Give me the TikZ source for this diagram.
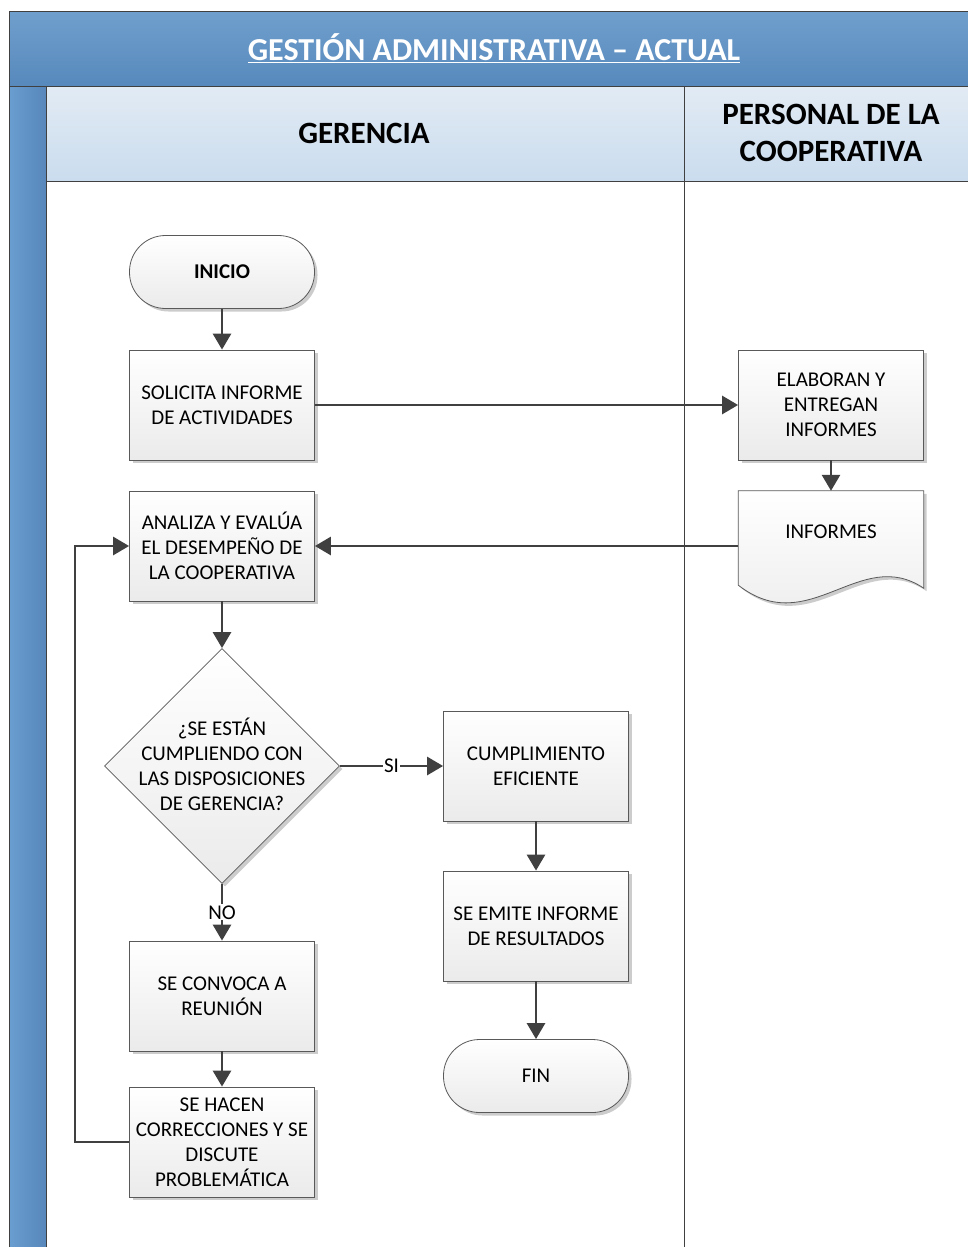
\documentclass[tikz,border=0pt]{standalone}
\usepackage{fontspec}
\setmainfont{Carlito}
\usetikzlibrary{shapes.geometric,shadows,arrows.meta,calc}

\definecolor{bandtop}{HTML}{6E9FCC}
\definecolor{bandbot}{HTML}{5889BD}
\definecolor{stripleft}{HTML}{6A9DD0}
\definecolor{stripright}{HTML}{5787BB}
\definecolor{headtop}{HTML}{E2EBF4}
\definecolor{headbot}{HTML}{CADCEE}
\definecolor{linecol}{HTML}{404040}
\definecolor{boxline}{HTML}{595959}

\newcommand\flowfont{\fontsize{21}{25}\selectfont}
\newcommand\headfont{\fontsize{31}{37}\selectfont\bfseries}

\begin{document}
\begin{tikzpicture}[x=1pt,y=-1pt,
  shade/.style={drop shadow={shadow xshift=3pt,shadow yshift=-3pt,opacity=0.2,fill=black}},
  boxfill/.style={draw=boxline,line width=0.8pt,top color=white,bottom color=black!8},
  box/.style={boxfill,shade,rectangle,minimum width=185pt,minimum height=110pt,
    inner sep=0pt,align=center,font=\flowfont},
  terminal/.style={boxfill,shade,rectangle,rounded corners=36pt,minimum width=185pt,
    minimum height=73pt,inner sep=0pt,align=center,font=\flowfont},
  decision/.style={boxfill,shade,diamond,minimum width=235pt,minimum height=235pt,
    inner sep=0pt,font=\flowfont},
  flow/.style={draw=linecol,line width=2.8pt,-{Triangle[length=16pt,width=18pt]}},
  lbl/.style={fill=white,inner sep=1pt,font=\flowfont},
  lanetitle/.style={align=center,font=\headfont,text=black}]

\useasboundingbox (0,0) rectangle (968,1247);

% swimlane frame
\fill[top color=bandtop,bottom color=bandbot] (9,12) rectangle (968,86);
\fill[left color=stripleft,right color=stripright] (9,86) rectangle (46,1247);
\fill[top color=headtop,bottom color=headbot] (46,86) rectangle (968,181);
\draw[linecol,line width=1pt] (968,12) -- (9,12) -- (9,1247);
\draw[linecol,line width=1pt] (9,86) -- (968,86);
\draw[linecol,line width=1pt] (46,86) -- (46,1247);
\draw[linecol,line width=1pt] (46,181) -- (968,181);
\draw[linecol,line width=1pt] (684,86) -- (684,1247);

\node[font=\fontsize{32}{36}\selectfont\bfseries,text=white] (title) at (494,48)
  {\underline{GESTIÓN ADMINISTRATIVA – ACTUAL}};
\node[lanetitle] (lane1) at (364,133) {GERENCIA};
\node[lanetitle] (lane2) at (831,133) {PERSONAL DE LA\\COOPERATIVA};

% flow steps
\node[terminal] (ini) at (222,272) {\bfseries INICIO};
\node[box] (sol) at (222,405) {SOLICITA INFORME\\DE ACTIVIDADES};
\node[box] (ela) at (831,405) {ELABORAN Y\\ENTREGAN\\INFORMES};
\node[minimum width=185pt,minimum height=110pt,inner sep=0pt,font=\flowfont]
  (inf) at (831,546) {};
\draw[boxfill,shade] (inf.north west) -- (inf.north east)
  -- ($(inf.south east)+(0,-13)$)
  .. controls ($(inf.south east)+(-64,-56)$) and ($(inf.south west)+(71,39)$)
  .. ($(inf.south west)+(0,-16)$) -- cycle;
\node[font=\flowfont] (inftext) at (831,532) {INFORMES};
\node[box] (ana) at (222,546) {ANALIZA Y EVALÚA\\EL DESEMPEÑO DE\\LA COOPERATIVA};
\node[decision] (dec) at (222,766) {\makebox[0pt]{\raisebox{-7pt}[0pt][0pt]{\begin{tabular}{@{}c@{}}¿SE ESTÁN\\CUMPLIENDO CON\\LAS DISPOSICIONES\\DE GERENCIA?\end{tabular}}}};
\node[box] (cum) at (536,766) {CUMPLIMIENTO\\EFICIENTE};
\node[box] (emi) at (536,926) {SE EMITE INFORME\\DE RESULTADOS};
\node[terminal] (fin) at (536,1076) {FIN};
\node[box] (con) at (222,996) {SE CONVOCA A\\REUNIÓN};
\node[box] (cor) at (222,1142) {SE HACEN\\CORRECCIONES Y SE\\DISCUTE\\PROBLEMÁTICA};
\coordinate (loop) at (75,1142);

% connectors
\draw[flow] (ini) -- (sol);
\draw[flow] (sol) -- (ela);
\draw[flow] (ela) -- (inf);
\draw[flow] (inf.west) -- (ana.east);
\draw[flow] (ana) -- (dec);
\draw[flow] (dec.east) -- node[lbl] {SI} (cum.west);
\draw[flow] (cum) -- (emi);
\draw[flow] (emi) -- (fin);
\draw[flow] (dec.south) -- node[lbl] {NO} (con.north);
\draw[flow] (con) -- (cor);
\draw[flow] (cor.west) -- (loop) |- (ana.west);
\end{tikzpicture}
\end{document}
